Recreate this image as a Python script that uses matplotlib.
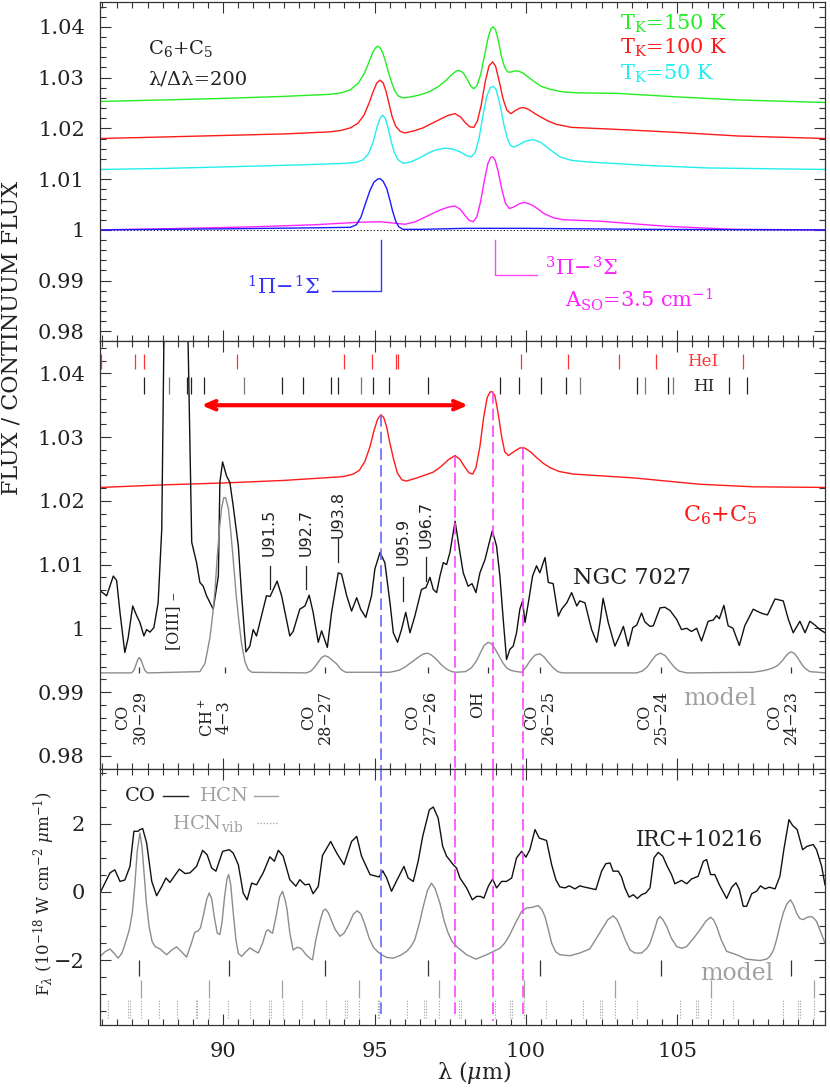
import numpy as np
import matplotlib
matplotlib.use('Agg')
import matplotlib.pyplot as plt
from matplotlib.ticker import MultipleLocator, FuncFormatter

plt.rcParams['font.family'] = 'DejaVu Serif'
plt.rcParams['mathtext.fontset'] = 'dejavuserif'

# ---------------- data (wavelength in micron, value) ----------------
# top panel: C6+C5 models at lambda/dlambda = 200
green_150K = [(85.93, 1.0253), (88.0, 1.0256), (90.0, 1.0259), (92.0, 1.0263), (93.5, 1.0267),
              (93.9, 1.0270), (94.2, 1.0276), (94.46, 1.0289), (94.65, 1.0307), (94.8, 1.0328),
              (94.92, 1.0347), (95.02, 1.0358), (95.1, 1.0362), (95.18, 1.0359), (95.27, 1.0349),
              (95.36, 1.0332), (95.45, 1.0312), (95.56, 1.0291), (95.66, 1.0275), (95.78, 1.0264),
              (95.95, 1.0260), (96.2, 1.0262), (96.5, 1.0266), (96.8, 1.0272), (97.1, 1.0282),
              (97.35, 1.0294), (97.55, 1.0306), (97.7, 1.0313), (97.8, 1.0314), (97.92, 1.0310),
              (98.05, 1.0298), (98.18, 1.0283), (98.28, 1.0278), (98.38, 1.0284), (98.5, 1.0305),
              (98.62, 1.0340), (98.75, 1.0378), (98.85, 1.0397), (98.92, 1.0400), (99.0, 1.0394),
              (99.1, 1.0370), (99.2, 1.0340), (99.3, 1.0320), (99.4, 1.0311), (99.5, 1.0311),
              (99.62, 1.0313), (99.75, 1.0313), (99.9, 1.0309), (100.1, 1.0300), (100.3, 1.0291),
              (100.5, 1.0283), (100.8, 1.0277), (101.2, 1.0272), (101.7, 1.0270), (103.0, 1.0269),
              (105.0, 1.0262), (107.0, 1.0256), (109.9, 1.0251)]
red_100K = [(85.93, 1.0180), (88.0, 1.0183), (90.0, 1.0186), (92.0, 1.0189), (93.5, 1.0193),
            (93.9, 1.0196), (94.2, 1.0201), (94.45, 1.0210), (94.65, 1.0226), (94.82, 1.0250),
            (94.95, 1.0272), (95.07, 1.0289), (95.18, 1.0295), (95.28, 1.0290), (95.38, 1.0273),
            (95.48, 1.0248), (95.58, 1.0223), (95.7, 1.0204), (95.85, 1.0194), (96.0, 1.0191),
            (96.3, 1.0195), (96.6, 1.0201), (96.9, 1.0210), (97.2, 1.0219), (97.45, 1.0226),
            (97.66, 1.0229), (97.85, 1.0222), (98.0, 1.0211), (98.15, 1.0203), (98.28, 1.0202),
            (98.4, 1.0215), (98.52, 1.0245), (98.65, 1.0290), (98.78, 1.0323), (98.9, 1.0331),
            (99.0, 1.0322), (99.12, 1.0292), (99.25, 1.0257), (99.37, 1.0236), (99.5, 1.0229),
            (99.65, 1.0235), (99.8, 1.0240), (99.93, 1.0241), (100.1, 1.0237), (100.3, 1.0229),
            (100.5, 1.0222), (100.75, 1.0214), (101.0, 1.0208), (101.5, 1.0202), (103.0, 1.0198),
            (105.0, 1.0192), (107.0, 1.0185), (109.9, 1.0180)]
cyan_50K = [(85.93, 1.0119), (88.0, 1.0121), (90.0, 1.0124), (92.5, 1.0128), (94.0, 1.0131),
            (94.4, 1.0133), (94.62, 1.0138), (94.8, 1.0150), (94.95, 1.0173), (95.08, 1.0202),
            (95.18, 1.0220), (95.27, 1.0226), (95.36, 1.0219), (95.45, 1.0200), (95.55, 1.0174),
            (95.65, 1.0153), (95.78, 1.0138), (95.95, 1.0131), (96.2, 1.0134), (96.5, 1.0142),
            (96.8, 1.0152), (97.05, 1.0158), (97.33, 1.0161), (97.6, 1.0159), (97.85, 1.0153),
            (98.05, 1.0146), (98.2, 1.0144), (98.32, 1.0152), (98.45, 1.0180), (98.58, 1.0225),
            (98.7, 1.0262), (98.82, 1.0280), (98.92, 1.0283), (99.02, 1.0276), (99.15, 1.0245),
            (99.28, 1.0205), (99.4, 1.0178), (99.5, 1.0166), (99.6, 1.0163), (99.75, 1.0167),
            (99.95, 1.0174), (100.24, 1.0178), (100.5, 1.0172), (100.8, 1.0158), (101.12, 1.0144),
            (101.5, 1.0137), (102.0, 1.0134), (104.0, 1.0127), (106.0, 1.0122), (109.9, 1.0119)]
blue_singlet = [(85.93, 1.0), (90.0, 1.0002), (93.0, 1.0004), (94.2, 1.0005), (94.4, 1.0010),
                (94.55, 1.0025), (94.7, 1.0052), (94.85, 1.0078), (94.98, 1.0094), (95.1, 1.0100),
                (95.18, 1.0101), (95.28, 1.0096), (95.4, 1.0082), (95.5, 1.0060), (95.6, 1.0036),
                (95.7, 1.0017), (95.8, 1.0006), (95.94, 1.0001), (96.5, 1.0001), (98.0, 1.0003),
                (100.0, 1.0003), (102.0, 1.0002), (104.0, 1.0001), (109.9, 1.0)]
magenta_triplet = [(85.93, 1.0), (88.0, 1.0002), (91.0, 1.0006), (93.0, 1.0010), (94.5, 1.0015),
                   (95.2, 1.0016), (96.0, 1.0011), (96.3, 1.0015), (96.6, 1.0023), (96.94, 1.0033),
                   (97.2, 1.0040), (97.45, 1.0045), (97.66, 1.0047), (97.82, 1.0041), (97.98, 1.0029),
                   (98.12, 1.0019), (98.26, 1.0016), (98.38, 1.0026), (98.5, 1.0055), (98.62, 1.0095),
                   (98.74, 1.0130), (98.84, 1.0143), (98.9, 1.0144), (98.98, 1.0138), (99.08, 1.0116),
                   (99.2, 1.0081), (99.32, 1.0053), (99.45, 1.0042), (99.6, 1.0045), (99.8, 1.0052),
                   (99.97, 1.0054), (100.2, 1.0049), (100.4, 1.0041), (100.6, 1.0032), (100.9, 1.0024),
                   (101.23, 1.0020), (102.45, 1.0017), (104.65, 1.0007), (106.85, 1.0001), (109.9, 1.0)]

# middle panel
c6c5_model = [(85.93, 1.0221), (88.0, 1.0225), (90.0, 1.0228), (92.0, 1.0232), (93.97, 1.0238),
              (94.3, 1.0242), (94.5, 1.0248), (94.68, 1.0262), (94.85, 1.0285), (94.98, 1.0310),
              (95.1, 1.0328), (95.21, 1.0335), (95.3, 1.0331), (95.4, 1.0316), (95.5, 1.0292),
              (95.62, 1.0267), (95.75, 1.0244), (95.9, 1.0233), (96.05, 1.0231), (96.4, 1.0236),
              (96.94, 1.0245), (97.2, 1.0254), (97.45, 1.0265), (97.66, 1.0271), (97.82, 1.0265),
              (97.98, 1.0253), (98.12, 1.0244), (98.24, 1.0242), (98.35, 1.0252), (98.48, 1.0285),
              (98.6, 1.0330), (98.72, 1.0362), (98.82, 1.0371), (98.9, 1.0371), (98.98, 1.0364),
              (99.08, 1.0338), (99.2, 1.0300), (99.3, 1.0277), (99.42, 1.0271), (99.6, 1.0277),
              (99.8, 1.0283), (99.95, 1.0283), (100.15, 1.0277), (100.35, 1.0268), (100.57, 1.0259),
              (100.8, 1.0252), (101.1, 1.0246), (101.56, 1.0242), (103.55, 1.0236), (105.75, 1.0226),
              (107.5, 1.0222), (109.9, 1.0221)]
ngc7027 = [(85.93, 1.0059), (86.15, 1.0051), (86.37, 1.0082), (86.48, 1.0075), (86.59, 1.0025),
           (86.75, 0.9962), (86.86, 0.9985), (87.01, 1.0035), (87.14, 1.0020), (87.25, 1.0009),
           (87.38, 0.9988), (87.47, 0.9998), (87.58, 0.9994), (87.71, 1.0001), (87.85, 1.0040),
           (87.97, 1.0155), (88.04, 1.0449), (88.10, 1.0700), (88.78, 1.0700), (88.84, 1.0449),
           (88.96, 1.0135), (89.12, 1.0103), (89.23, 1.0072), (89.34, 1.0066), (89.45, 1.0051),
           (89.67, 1.0030), (89.84, 1.0082), (89.89, 1.0229), (89.98, 1.0261), (90.11, 1.0239),
           (90.22, 1.0229), (90.33, 1.0192), (90.50, 1.0129), (90.61, 1.0051), (90.75, 0.9963),
           (90.88, 0.9972), (90.99, 0.9998), (91.10, 0.9988), (91.43, 1.0051), (91.55, 1.0050),
           (91.78, 1.0074), (91.93, 1.0051), (92.20, 0.9988), (92.31, 0.9995), (92.53, 1.0030),
           (92.70, 1.0035), (92.84, 1.0052), (92.97, 1.0025), (93.14, 0.9978), (93.25, 0.9996),
           (93.44, 0.9970), (93.58, 1.0025), (93.80, 1.0087), (93.91, 1.0085), (94.08, 1.0051),
           (94.24, 1.0027), (94.41, 1.0048), (94.54, 1.0030), (94.71, 1.0017), (94.90, 1.0051),
           (95.01, 1.0093), (95.18, 1.0119), (95.34, 1.0103), (95.51, 1.0040), (95.62, 0.9993),
           (95.76, 0.9978), (95.89, 0.9998), (96.03, 1.0025), (96.17, 0.9993), (96.33, 1.0019),
           (96.55, 1.0061), (96.70, 1.0064), (96.83, 1.0080), (96.94, 1.0061), (97.05, 1.0056),
           (97.16, 1.0082), (97.27, 1.0103), (97.38, 1.0100), (97.49, 1.0119), (97.66, 1.0168),
           (97.82, 1.0119), (97.93, 1.0087), (98.09, 1.0066), (98.22, 1.0070), (98.35, 1.0056),
           (98.48, 1.0087), (98.65, 1.0108), (98.76, 1.0129), (98.89, 1.0153), (99.03, 1.0129),
           (99.14, 1.0082), (99.25, 1.0014), (99.36, 0.9951), (99.47, 0.9967), (99.58, 0.9972),
           (99.69, 0.9993), (99.80, 1.0030), (99.89, 1.0043), (99.97, 1.0009), (100.08, 1.0040),
           (100.22, 1.0082), (100.35, 1.0098), (100.46, 1.0087), (100.63, 1.0111), (100.74, 1.0072),
           (100.90, 1.0070), (101.07, 1.0019), (101.18, 1.0030), (101.35, 1.0040), (101.51, 1.0056),
           (101.68, 1.0035), (101.78, 1.0043), (101.95, 1.0040), (102.17, 0.9998), (102.34, 0.9978),
           (102.45, 1.0010), (102.55, 1.0047), (102.72, 1.0009), (102.94, 0.9972), (103.11, 0.9990),
           (103.22, 1.0003), (103.38, 0.9972), (103.53, 1.0001), (103.66, 1.0005), (103.82, 1.0024),
           (103.93, 1.0010), (104.10, 1.0003), (104.21, 1.0004), (104.43, 1.0032), (104.59, 1.0033),
           (104.76, 1.0028), (104.98, 1.0014), (105.14, 0.9998), (105.31, 1.0000), (105.47, 0.9995),
           (105.64, 1.0000), (105.80, 0.9980), (106.02, 1.0011), (106.19, 1.0013), (106.30, 1.0020),
           (106.39, 1.0015), (106.54, 1.0036), (106.68, 1.0004), (106.84, 1.0000), (107.05, 0.9973),
           (107.23, 1.0004), (107.51, 1.0030), (107.67, 1.0026), (107.82, 1.0023), (107.98, 1.0021),
           (108.23, 1.0046), (108.50, 1.0043), (108.67, 1.0014), (108.83, 0.9993), (109.05, 1.0011),
           (109.22, 0.9993), (109.38, 1.0011), (109.55, 1.0005), (109.71, 0.9998), (109.88, 0.9993)]
ngc_model = [(85.93, 0.9930), (86.97, 0.9930), (87.05, 0.9934), (87.12, 0.9943), (87.18, 0.9951),
             (87.23, 0.9954), (87.28, 0.9951), (87.34, 0.9943), (87.41, 0.9934), (87.50, 0.9930),
             (89.23, 0.9932), (89.40, 0.9945), (89.56, 0.9985), (89.65, 1.0020), (89.73, 1.0060),
             (89.80, 1.0110), (89.87, 1.0153), (89.95, 1.0190), (90.02, 1.0205), (90.08, 1.0205),
             (90.17, 1.0188), (90.24, 1.0157), (90.31, 1.0119), (90.38, 1.0080), (90.44, 1.0046),
             (90.52, 1.0010), (90.61, 0.9975), (90.72, 0.9947), (90.83, 0.9935), (90.95, 0.9931),
             (92.75, 0.9930), (92.90, 0.9933), (93.02, 0.9939), (93.14, 0.9947), (93.25, 0.9954),
             (93.36, 0.9957), (93.47, 0.9955), (93.60, 0.9950), (93.75, 0.9944), (93.90, 0.9935),
             (94.05, 0.9931), (95.50, 0.9931), (95.80, 0.9934), (96.00, 0.9939), (96.20, 0.9946),
             (96.40, 0.9953), (96.58, 0.9959), (96.74, 0.9961), (96.88, 0.9958), (97.05, 0.9951),
             (97.20, 0.9943), (97.38, 0.9936), (97.55, 0.9932), (97.70, 0.9931), (98.00, 0.9932),
             (98.20, 0.9938), (98.37, 0.9949), (98.50, 0.9962), (98.62, 0.9973), (98.75, 0.9978),
             (98.85, 0.9976), (98.95, 0.9970), (99.05, 0.9962), (99.14, 0.9954), (99.25, 0.9945),
             (99.36, 0.9938), (99.50, 0.9934), (99.69, 0.9932), (99.86, 0.9931), (100.00, 0.9939),
             (100.15, 0.9950), (100.30, 0.9958), (100.46, 0.9960), (100.60, 0.9955), (100.75, 0.9946),
             (100.90, 0.9938), (101.05, 0.9932), (101.20, 0.9930), (103.66, 0.9930), (103.85, 0.9933),
             (104.00, 0.9939), (104.15, 0.9949), (104.30, 0.9958), (104.45, 0.9961), (104.60, 0.9957),
             (104.75, 0.9948), (104.90, 0.9939), (105.05, 0.9933), (105.31, 0.9930), (107.51, 0.9931),
             (107.90, 0.9934), (108.12, 0.9937), (108.30, 0.9941), (108.45, 0.9948), (108.58, 0.9956),
             (108.68, 0.9961), (108.76, 0.9963), (108.86, 0.9961), (108.96, 0.9955), (109.08, 0.9946),
             (109.20, 0.9938), (109.38, 0.9932), (109.90, 0.9930)]

hei_lines = [85.95, 87.10, 87.39, 90.44, 94.00, 94.93, 95.70, 95.78, 99.83, 101.40, 103.08, 104.30, 107.17]
hi_lines = [87.39, 88.22, 88.79, 88.93, 89.36, 90.70, 91.93, 92.64, 93.55, 93.80, 94.55, 94.96, 95.48,
            96.75, 99.14, 99.78, 100.49, 101.31, 101.78, 103.66, 103.95, 104.68, 104.85, 106.72, 107.29]
hi_grey = [88.22, 90.70, 94.55, 101.78, 103.95, 104.85]

line_ids = ['CO\n30\u221229', 'CH$^+$\n4\u22123', 'CO\n28\u221227', 'CO\n27\u221226', 'OH',
            'CO\n26\u221225', 'CO\n25\u221224', 'CO\n24\u221223']
line_id_peaks = [87.23, 90.06, 93.36, 96.75, 98.76, 100.46, 104.45, 108.76]
line_id_label_x = [86.97, 89.73, 93.10, 96.55, 98.42, 100.46, 104.21, 108.50]
u_features = [91.5, 92.7, 93.8, 95.9, 96.7]
u_positions = [91.53, 92.75, 93.80, 95.95, 96.70]

# bottom panel: IRC+10216
irc10216 = [(85.93, -0.03), (86.26, 0.56), (86.42, 0.65), (86.59, 0.31), (86.75, 0.35), (86.92, 0.75),
            (87.05, 1.78), (87.19, 1.78), (87.25, 1.83), (87.34, 1.86), (87.47, 1.44), (87.64, 0.31),
            (87.80, -0.11), (87.97, 0.16), (88.11, 0.41), (88.24, 0.28), (88.55, 0.67), (88.74, 0.54),
            (88.90, 0.56), (89.12, 0.75), (89.32, 1.22), (89.47, 1.09), (89.62, 0.70), (89.76, 0.61),
            (89.98, 1.19), (90.20, 1.24), (90.33, 1.14), (90.50, 0.80), (90.66, -0.03), (90.79, -0.23),
            (90.94, 0.26), (91.10, 0.21), (91.32, 0.56), (91.54, 1.03), (91.69, 0.90), (91.82, 1.22),
            (91.98, 1.05), (92.20, 0.36), (92.40, 0.17), (92.53, 0.36), (92.70, 0.21), (92.84, 0.23),
            (92.97, -0.05), (93.14, 0.16), (93.28, 1.07), (93.55, 1.48), (93.75, 1.14), (93.99, 0.80),
            (94.24, 1.48), (94.41, 1.63), (94.57, 1.05), (94.85, 0.51), (95.15, 0.44), (95.27, 0.62),
            (95.40, 0.41), (95.56, 0.02), (95.73, 0.33), (95.97, 0.75), (96.11, 0.41), (96.28, 0.31),
            (96.44, 0.90), (96.59, 1.63), (96.81, 2.41), (96.94, 2.49), (97.10, 2.17), (97.25, 1.34),
            (97.38, 1.05), (97.60, 0.80), (97.71, 0.70), (97.82, 0.41), (98.04, 0.12), (98.23, -0.23),
            (98.37, -0.13), (98.50, -0.13), (98.61, -0.18), (98.76, 0.17), (98.90, 0.38), (99.03, 0.12),
            (99.20, 0.31), (99.36, 0.31), (99.53, 0.41), (99.69, 1.00), (99.86, 1.19), (100.00, 1.02),
            (100.13, 1.24), (100.30, 1.83), (100.44, 1.58), (100.68, 1.51), (100.85, 0.80), (100.99, 0.36),
            (101.12, 0.15), (101.29, 0.12), (101.43, 0.18), (101.62, 0.09), (101.78, 0.18), (101.95, 0.14),
            (102.06, 0.12), (102.31, 0.07), (102.50, 0.61), (102.64, 0.83), (102.78, 0.85), (102.88, 0.61),
            (103.05, 0.61), (103.16, 0.44), (103.27, 0.12), (103.41, -0.15), (103.55, -0.08), (103.68, -0.19),
            (103.82, -0.08), (103.96, -0.03), (104.10, 0.12), (104.23, 1.00), (104.37, 1.16), (104.52, 1.05),
            (104.67, 0.75), (104.81, 0.51), (104.92, 0.24), (105.14, 0.34), (105.31, 0.24), (105.47, 0.38),
            (105.69, 0.46), (105.86, 0.90), (105.97, 0.95), (106.10, 0.51), (106.24, 0.51), (106.39, 0.21),
            (106.63, -0.19), (106.80, 0.14), (106.94, 0.27), (107.05, 0.07), (107.18, -0.42), (107.29, -0.42),
            (107.46, -0.05), (107.62, 0.02), (107.75, 0.18), (107.90, 0.09), (108.04, 0.14), (108.23, 0.09),
            (108.39, 0.46), (108.52, 1.24), (108.69, 2.12), (108.81, 1.95), (108.96, 1.83), (109.14, 1.24),
            (109.29, 1.34), (109.49, 1.39), (109.60, 1.24), (109.77, 0.75), (109.88, 0.21)]
irc_model = [(85.93, -1.89), (86.10, -1.75), (86.26, -1.67), (86.40, -1.80), (86.53, -1.94), (86.65, -1.80),
             (86.75, -1.55), (86.90, -1.10), (87.00, -0.60), (87.08, 0.20), (87.16, 1.20), (87.25, 1.73),
             (87.32, 1.30), (87.38, 0.60), (87.46, -0.30), (87.55, -1.00), (87.65, -1.45), (87.75, -1.60),
             (87.91, -1.67), (88.13, -1.84), (88.30, -1.70), (88.46, -1.61), (88.62, -1.75), (88.79, -1.91),
             (88.95, -1.50), (89.06, -1.18), (89.16, -1.15), (89.25, -1.05), (89.36, -0.62), (89.46, -0.20),
             (89.54, -0.03), (89.62, -0.20), (89.70, -0.70), (89.80, -1.20), (89.89, -1.25), (89.96, -0.90),
             (90.05, -0.10), (90.13, 0.40), (90.18, 0.51), (90.25, 0.20), (90.33, -0.60), (90.42, -1.40),
             (90.50, -1.80), (90.61, -1.89), (90.75, -1.75), (90.88, -1.64), (91.02, -1.72), (91.16, -1.79),
             (91.30, -1.50), (91.42, -1.15), (91.49, -1.11), (91.56, -1.17), (91.63, -1.21), (91.75, -0.70),
             (91.86, -0.15), (91.96, 0.02), (92.05, -0.25), (92.11, -0.52), (92.20, -1.20), (92.31, -1.70),
             (92.45, -1.62), (92.59, -1.67), (92.75, -1.85), (92.90, -1.97), (92.95, -1.99), (93.06, -1.40),
             (93.20, -0.85), (93.30, -0.55), (93.38, -0.50), (93.48, -0.62), (93.58, -0.85), (93.70, -1.10),
             (93.86, -1.30), (94.00, -1.20), (94.15, -0.95), (94.30, -0.65), (94.43, -0.55), (94.55, -0.65),
             (94.68, -0.95), (94.82, -1.35), (94.96, -1.62), (95.10, -1.75), (95.23, -1.84), (95.40, -1.92),
             (95.62, -1.94), (95.85, -1.86), (96.06, -1.74), (96.20, -1.60), (96.33, -1.40), (96.50, -0.85),
             (96.61, -0.42), (96.75, 0.05), (96.88, 0.26), (97.00, 0.10), (97.16, -0.33), (97.30, -0.85),
             (97.43, -1.20), (97.56, -1.45), (97.71, -1.60), (98.04, -1.84), (98.35, -1.97), (98.70, -1.84),
             (99.14, -1.65), (99.30, -1.50), (99.47, -1.25), (99.66, -0.90), (99.86, -0.57), (100.02, -0.47),
             (100.20, -0.45), (100.41, -0.40), (100.53, -0.52), (100.63, -0.72), (100.74, -1.10), (100.85, -1.50),
             (100.98, -1.75), (101.12, -1.84), (101.45, -1.87), (101.78, -1.79), (102.11, -1.67), (102.30, -1.40),
             (102.50, -1.11), (102.70, -0.82), (102.88, -0.70), (103.00, -0.80), (103.11, -1.01), (103.28, -1.40),
             (103.44, -1.70), (103.60, -1.79), (103.82, -1.79), (104.00, -1.65), (104.10, -1.50), (104.25, -1.10),
             (104.35, -0.80), (104.43, -0.72), (104.53, -0.82), (104.65, -1.01), (104.80, -1.35), (104.98, -1.60),
             (105.15, -1.65), (105.31, -1.60), (105.50, -1.40), (105.75, -1.11), (105.95, -0.85), (106.10, -0.74),
             (106.20, -0.82), (106.30, -1.01), (106.45, -1.40), (106.63, -1.74), (106.96, -1.84), (107.29, -1.97),
             (107.73, -2.01), (107.95, -1.97), (108.06, -1.89), (108.18, -1.70), (108.28, -1.40), (108.40, -0.95),
             (108.50, -0.62), (108.62, -0.35), (108.74, -0.23), (108.85, -0.40), (108.94, -0.62), (109.05, -0.78),
             (109.16, -0.81), (109.30, -0.74), (109.44, -0.72), (109.52, -0.78), (109.60, -0.86), (109.75, -1.20),
             (109.88, -1.50)]

co_lines = [87.23, 90.18, 93.36, 96.77, 100.46, 104.45, 108.76]
hcn_lines = [87.30, 89.54, 91.93, 94.47, 97.14, 99.93, 102.94, 106.13, 109.51]
hcn_vib_lines = [86.18, 86.86, 86.92, 87.30, 87.89, 88.48, 89.10, 89.15, 89.54, 90.17, 90.88, 91.52,
                 91.57, 91.96, 92.59, 93.39, 94.02, 94.08, 94.47, 95.10, 95.15, 96.08, 96.63, 96.69,
                 97.14, 97.80, 97.84, 98.98, 99.47, 99.53, 99.93, 100.66, 101.87, 102.44, 102.50,
                 102.94, 103.68, 105.09, 105.62, 105.67, 106.13, 106.85, 108.48, 109.00, 109.05, 109.51]

# vertical guides: wavelength, top (middle panel), bottom (lower panel)
guide_lam = [95.21, 97.66, 98.90, 99.90]
guide_top = [1.0335, 1.0271, 1.0371, 1.0283]
guide_bot = [-3.65, -3.69, -3.79, -3.69]

# ---------------- figure ----------------
W, H = 830, 1089
fig = plt.figure(figsize=(W / 100, H / 100), dpi=100)
left, right = 100 / W, 825.3 / W


def fy(py):
    return 1 - py / H


ax1 = fig.add_axes([left, fy(341.5), right - left, fy(1.5) - fy(341.5)])
ax2 = fig.add_axes([left, fy(768.5), right - left, fy(341.5) - fy(768.5)])
ax3 = fig.add_axes([left, fy(1025), right - left, fy(768.5) - fy(1025)])

GREY = '#8c8c8c'
LGREY = '#a0a0a0'


def style(ax):
    ax.set_xlim(85.93, 109.89)
    ax.xaxis.set_major_locator(MultipleLocator(5))
    ax.xaxis.set_minor_locator(MultipleLocator(0.5))
    ax.tick_params(which='both', direction='in', top=True, right=True, color='#333333',
                   width=0.8, labelsize=15, labelcolor='#222222')
    ax.tick_params(which='major', length=8)
    ax.tick_params(which='minor', length=4)
    ax.tick_params(axis='y', pad=11)
    ax.tick_params(axis='x', pad=12)
    for s in ax.spines.values():
        s.set_color('#333333')
        s.set_linewidth(0.9)


def flux_fmt(v, p):
    return '1' if abs(v - 1) < 1e-9 else '%.2f' % v


for ax in (ax1, ax2):
    style(ax)
    ax.set_ylim(0.978, 1.045)
    ax.yaxis.set_major_locator(MultipleLocator(0.01))
    ax.yaxis.set_minor_locator(MultipleLocator(0.002))
    ax.yaxis.set_major_formatter(FuncFormatter(flux_fmt))
    ax.tick_params(labelbottom=False)
style(ax3)
ax3.set_ylim(-3.9, 3.62)
ax3.yaxis.set_major_locator(MultipleLocator(2))
ax3.yaxis.set_minor_locator(MultipleLocator(0.5))
ax3.yaxis.set_major_formatter(FuncFormatter(lambda v, p: '%d' % v if v >= 0 else '\u2212%d' % -v))


def xy(series):
    a = np.array(series)
    return a[:, 0], a[:, 1]


# ---- top panel ----
ax1.axhline(1.0, color='k', ls=(0, (1, 2)), lw=0.8)
for series, col in [(green_150K, '#22ee22'), (red_100K, '#ff1a1a'), (cyan_50K, '#22eeee'),
                    (magenta_triplet, '#ff22ff'), (blue_singlet, '#1a1aff')]:
    ax1.plot(*xy(series), color=col, lw=1.0)

ax1.text(87.51, 1.0346, r'C$_6$+C$_5$', fontsize=14, color='#222222', va='baseline')
ax1.text(87.51, 1.0286, '\u03bb/\u0394\u03bb=200', fontsize=14, color='#222222', va='baseline')
ax1.text(103.11, 1.0394, r'T$_{\rm K}$=150 K', fontsize=15, color='#22ee22', va='baseline')
ax1.text(103.11, 1.0347, r'T$_{\rm K}$=100 K', fontsize=15, color='#ff1a1a', va='baseline')
ax1.text(103.11, 1.0296, r'T$_{\rm K}$=50 K', fontsize=15, color='#22eeee', va='baseline')

ax1.plot([95.21, 95.21, 93.61], [0.998, 0.9880, 0.9880], color='#3333ff', lw=1.0)
ax1.text(93.19, 0.9888, r'$^1\Pi\!-\!^1\Sigma$', color='#3333ff', fontsize=15, ha='right', va='center')
ax1.plot([98.97, 98.97, 100.35], [0.998, 0.99116, 0.99116], color='#ff44ff', lw=1.0)
ax1.text(100.62, 0.9925, r'$^3\Pi\!-\!^3\Sigma$', color='#ff22ff', fontsize=15, ha='left', va='center')
ax1.text(101.28, 0.9847, r'A$_{\rm SO}$=3.5 cm$^{-1}$', color='#ff22ff', fontsize=15, ha='left',
         va='baseline')

# ---- middle panel ----
ax2.vlines(hei_lines, 1.0407, 1.0430, color='#ff3333', lw=0.9)
ax2.vlines([v for v in hi_lines if v not in hi_grey], 1.0367, 1.0394, color='#222222', lw=0.9)
ax2.vlines(hi_grey, 1.0367, 1.0394, color='#777777', lw=0.9)
ax2.text(105.31, 1.0419, 'HeI', color='#ff3333', fontsize=12, va='center')
ax2.text(105.52, 1.03795, 'HI', color='#222222', fontsize=12, va='center')

ax2.annotate('', xy=(89.28, 1.0350), xytext=(98.09, 1.0350),
             arrowprops=dict(arrowstyle='<->, head_length=0.7, head_width=0.3', color='#ff0000', lw=3,
                             shrinkA=0, shrinkB=0))

ax2.plot(*xy(c6c5_model), color='#ff1a1a', lw=1.0)
ax2.plot(*xy(ngc7027), color='#111111', lw=1.0)
ax2.plot(*xy(ngc_model), color=GREY, lw=1.0)
ax2.vlines(line_id_peaks, 0.9930, 0.9939, color='#333333', lw=0.9)

for lab, xl in zip(line_ids, line_id_label_x):
    yc = 0.98807 if lab == 'OH' else 0.98603
    ax2.text(xl, yc, lab, rotation=90, ha='center', va='center', multialignment='center',
             fontsize=11.5, color='#222222', linespacing=1.0)

u_line_y = [(1.00978, 1.00612), (1.00978, 1.00612), (1.01397, 1.01036), (1.0080, 1.0043), (1.01115, 1.00743)]
u_text_y = [1.0151, 1.0151, 1.0179, 1.01358, 1.01633]
for name, xp, (y1, y0), yt in zip(u_features, u_positions, u_line_y, u_text_y):
    ax2.plot([xp, xp], [y0, y1], color='#222222', lw=0.9)
    ax2.text(xp, yt, 'U%.1f' % name, rotation=90, ha='center', va='center', fontsize=11.5,
             family='DejaVu Sans', color='#222222')
ax2.text(88.37, 1.0011, '[OIII] \u2013', rotation=90, ha='center', va='center', fontsize=11.5,
         color='#222222')

ax2.text(106.41, 1.0168, r'C$_6$+C$_5$', color='#ff1a1a', fontsize=16, ha='center', va='baseline')
ax2.text(101.56, 1.0069, 'NGC 7027', color='#222222', fontsize=16, va='baseline')
ax2.text(106.40, 0.98791, 'model', color=LGREY, fontsize=17, ha='center', va='baseline')

# ---- bottom panel ----
ax3.plot(*xy(irc_model), color=GREY, lw=1.0)
ax3.plot(*xy(irc10216), color='#111111', lw=1.0)
ax3.vlines(co_lines, -2.47, -1.99, color='#333333', lw=0.9)
ax3.vlines(hcn_lines, -3.11, -2.57, color=LGREY, lw=0.9)
ax3.vlines(hcn_vib_lines, -3.69, -3.16, color=LGREY, lw=0.8, linestyles=(0, (1, 1.5)))

ax3.text(86.76, 2.82, 'CO', fontsize=14, color='#222222', va='center')
ax3.plot([88.01, 88.84], [2.82, 2.82], color='#222222', lw=1.0)
ax3.text(89.23, 2.82, 'HCN', fontsize=14, color=LGREY, va='center')
ax3.plot([91.01, 91.81], [2.82, 2.82], color=LGREY, lw=1.0)
ax3.text(88.31, 2.02, r'HCN$_{\rm vib}$', fontsize=14, color=LGREY, va='center')
ax3.plot([91.11, 91.81], [2.03, 2.03], color=LGREY, lw=0.9, ls=(0, (1, 1.5)))
ax3.text(103.63, 1.53, 'IRC+10216', fontsize=15.5, color='#222222', va='center')
ax3.text(105.75, -2.57, 'model', fontsize=17, color=LGREY, va='baseline')

# dashed guides through middle and bottom panels
guide_col = ['#6a6aff', '#ff44ff', '#ff44ff', '#ff44ff']
for lam, top, bot, col in zip(guide_lam, guide_top, guide_bot, guide_col):
    ax2.plot([lam, lam], [top, 0.978], color=col, lw=1.2, ls=(0, (7, 3)))
    ax3.plot([lam, lam], [3.62, bot], color=col, lw=1.2, ls=(0, (7, 3)))

# axis labels
fig.text(12 / W, fy(338), 'FLUX / CONTINUUM FLUX', rotation=90, ha='center', va='center',
         fontsize=16, color='#222222')
fig.text(44 / W, fy(894), r'F$_\lambda$ (10$^{-18}$ W cm$^{-2}$ $\mu$m$^{-1}$)', rotation=90,
         ha='center', va='center', fontsize=12, color='#222222')
fig.text(474 / W, fy(1073), '\u03bb ($\\mu$m)', ha='center', va='center', fontsize=16,
         color='#222222')

fig.savefig('out.png', dpi=100)
